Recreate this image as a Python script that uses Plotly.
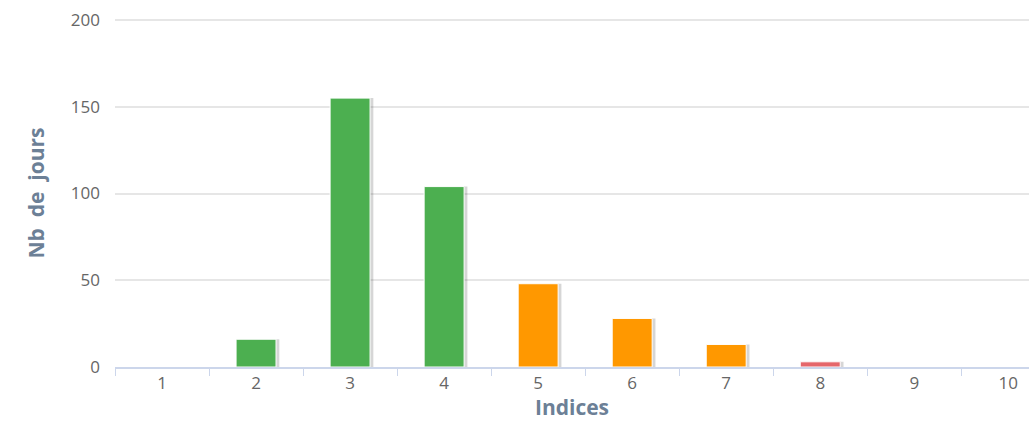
import plotly.graph_objects as go

categories = ["1", "2", "3", "4", "5", "6", "7", "8", "9", "10"]
values = [0, 16, 155, 104, 48, 28, 13, 3, 0, 0]
bar_colors = ["#4CAF50", "#4CAF50", "#4CAF50", "#4CAF50", "#FF9800",
              "#FF9800", "#FF9800", "#E5676B", "#E5676B", "#E5676B"]

y_ticks = [0, 50, 100, 150, 200]

BW = 0.425
fig = go.Figure()
# soft shadow
fig.add_trace(go.Bar(
    x=categories, y=values, width=BW, offset=-BW / 2 + 0.035,
    marker=dict(color="rgba(0,0,0,0.16)", line=dict(width=0)),
    hoverinfo="skip", showlegend=False,
))
fig.add_trace(go.Bar(
    x=categories, y=values, width=BW, offset=-BW / 2,
    marker=dict(color=bar_colors, line=dict(color="white", width=1)),
    showlegend=False,
))

fig.update_layout(
    width=1029, height=421,
    margin=dict(l=115, r=0, t=19, b=54),
    paper_bgcolor="white", plot_bgcolor="white",
    barmode="overlay",
    font=dict(family="Open Sans, DejaVu Sans, sans-serif", size=17, color="#666666"),
    xaxis=dict(
        type="category", range=[-0.5, 9.22],
        tickson="boundaries", ticks="outside", ticklen=7, tickcolor="#ccd6eb", tickwidth=1,
        showline=True, linecolor="#ccd6eb", linewidth=2,
        showgrid=False, zeroline=False,
        tickfont=dict(size=17, color="#666666"),
        title=dict(text="<b>Indices</b>", font=dict(size=21, color="#6c8096"), standoff=7),
    ),
    yaxis=dict(
        range=[0, 200.6], tickvals=y_ticks,
        showgrid=True, gridcolor="#e6e6e6", gridwidth=2,
        zeroline=False, showline=False, ticks="",
        ticklabelstandoff=14,
        tickfont=dict(size=17, color="#666666"),
        title=dict(text="<b>Nb  de  jours</b>", font=dict(size=21, color="#6c8096"), standoff=20),
    ),
)

fig.write_html("out.html")
